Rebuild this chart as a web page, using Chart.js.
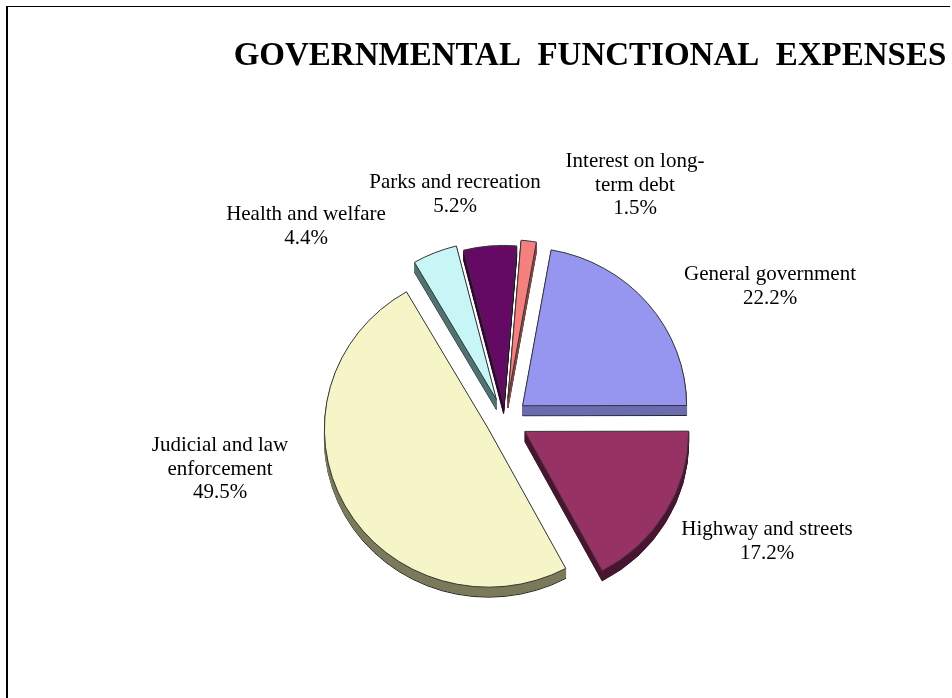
<!DOCTYPE html>
<html>
<head>
<meta charset="utf-8">
<script src="https://cdn.jsdelivr.net/npm/chart.js@4.4.1/dist/chart.umd.min.js"></script>
<style>
  html, body { margin: 0; padding: 0; background: #fff; }
  #wrap { position: relative; width: 952px; height: 698px; overflow: hidden; }
  #frame { position: absolute; left: 6px; top: 6px; width: 944px; height: 1000px;
           border-left: 2px solid #000; border-top: 1px solid #000; box-sizing: border-box; }
  #chart-box { position: absolute; left: 0; top: 0; width: 952px; height: 698px; }
</style>
</head>
<body>
<div id="wrap">
  <div id="frame"></div>
  <div id="chart-box"><canvas id="expenses-chart"></canvas></div>
</div>
<script>
// Slice data (clockwise, starting just right of 12 o'clock)
const categories = [
    ['General government'],
    ['Highway and streets'],
    ['Judicial and law', 'enforcement'],
    ['Health and welfare'],
    ['Parks and recreation'],
    ['Interest on long-', 'term debt']
];
const shares = [22.2, 17.2, 49.5, 4.4, 5.2, 1.5];
const shareLabels = ['22.2%', '17.2%', '49.5%', '4.4%', '5.2%', '1.5%'];

// Styling
const faceColors = ['#9696F0', '#963264', '#F5F5C8', '#C8F5F5', '#640A64', '#F58080'];
const sideColors = ['#6B6BB0', '#4A1432', '#7A7A5C', '#507373', '#3A003A', '#8A4444'];
const explode = [23, 23, 19, 23, 17, 23];
// label anchor offsets from pie centre (first baseline)
const labelOffsets = [[265, -140], [262, 115], [-285, 31], [-199, -200], [-50, -232], [130, -253]];
const tilt = 0.965;
const depth = 10;

const pie3d = {
    id: 'pie3d',
    beforeDatasetsDraw(chart) {
        const ctx = chart.ctx;
        const meta = chart.getDatasetMeta(0);
        if (!meta.data.length) return;
        const cy = meta.data[0].y;
        ctx.save();
        ctx.translate(0, cy);
        ctx.scale(1, tilt);
        ctx.translate(0, -cy);

        // extruded sides
        meta.data.forEach((arc, i) => {
            const mid = (arc.startAngle + arc.endAngle) / 2;
            const ex = Math.cos(mid) * explode[i];
            const ey = Math.sin(mid) * explode[i];
            const saved = arc.options;
            for (let d = depth; d > 0; d--) {
                arc.options = Object.assign({}, saved, {
                    backgroundColor: sideColors[i],
                    borderColor: d === depth ? '#222' : sideColors[i]
                });
                ctx.save();
                ctx.translate(ex, ey + d / tilt);
                arc.draw(ctx);
                ctx.restore();
            }
            arc.options = saved;
        });

        // top faces
        meta.data.forEach((arc, i) => {
            const mid = (arc.startAngle + arc.endAngle) / 2;
            ctx.save();
            ctx.translate(Math.cos(mid) * explode[i], Math.sin(mid) * explode[i]);
            arc.draw(ctx);
            ctx.restore();
        });
        ctx.restore();
        return false;
    },
    afterDraw(chart) {
        const ctx = chart.ctx;
        const meta = chart.getDatasetMeta(0);
        const cx = meta.data[0].x;
        const cy = meta.data[0].y;
        ctx.save();
        ctx.fillStyle = '#000';
        ctx.textAlign = 'center';
        ctx.textBaseline = 'alphabetic';

        // title
        ctx.font = 'bold 33px "Liberation Serif", "Times New Roman", serif';
        ctx.fillText('GOVERNMENTAL  FUNCTIONAL  EXPENSES', 590, 65);

        // slice labels
        ctx.font = '21px "Liberation Serif", "Times New Roman", serif';
        categories.forEach((lines, i) => {
            const all = lines.concat([shareLabels[i]]);
            const x = cx + labelOffsets[i][0];
            const y = cy + labelOffsets[i][1];
            all.forEach((t, j) => ctx.fillText(t, x, y + j * 23.5));
        });
        ctx.restore();
    }
};

new Chart(document.getElementById('expenses-chart'), {
    type: 'pie',
    data: {
        labels: categories.map(l => l.join(' ')),
        datasets: [{
            data: shares,
            backgroundColor: faceColors,
            borderColor: '#333',
            borderWidth: 1
        }]
    },
    options: {
        responsive: true,
        maintainAspectRatio: false,
        animation: false,
        rotation: 10,
        radius: 164,
        layout: { padding: { left: 58, right: 0, top: 142, bottom: 0 } },
        plugins: {
            legend: { display: false },
            title: { display: false },
            tooltip: { enabled: false }
        }
    },
    plugins: [pie3d]
});
</script>
</body>
</html>
